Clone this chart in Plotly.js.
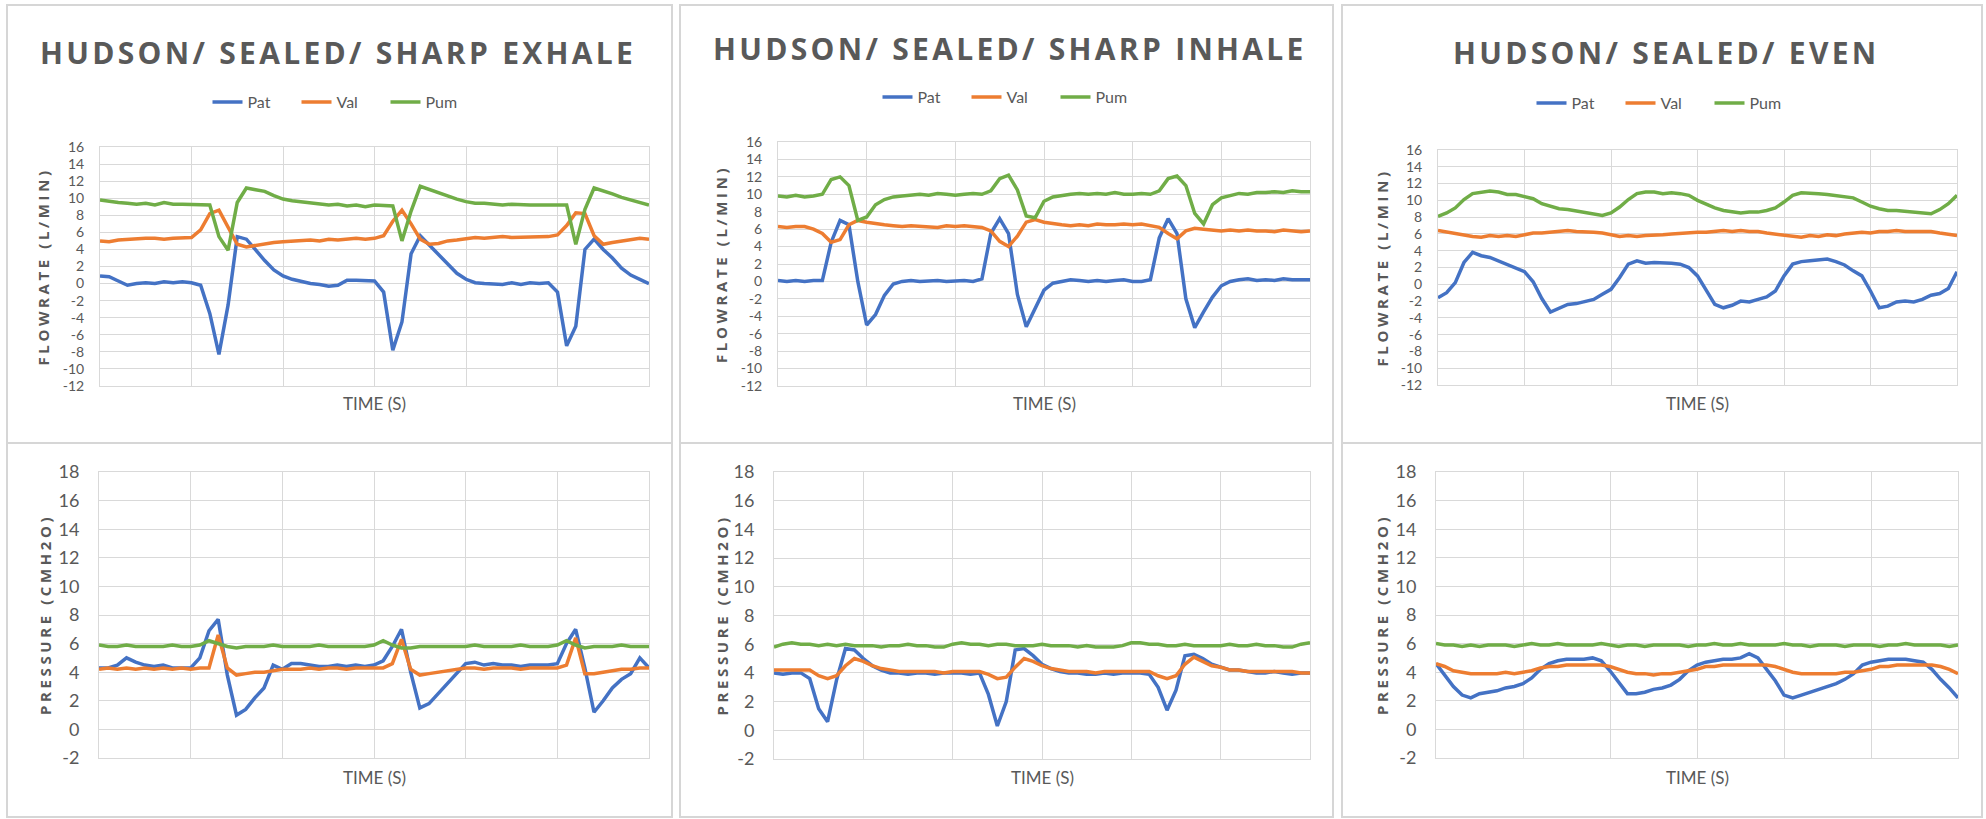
<!DOCTYPE html>
<html>
<head>
<meta charset="utf-8">
<script src="https://cdn.plot.ly/plotly-3.0.1.min.js"></script>
<style>
  html, body { margin: 0; padding: 0; background: #ffffff; }
  #chart { width: 1986px; height: 819px; }
  text.annotation-text[data-unformatted^="HUDSON"] { letter-spacing: 3.3px; }
  text.annotation-text[data-unformatted="FLOWRATE (L/MIN)"],
  text.annotation-text[data-unformatted="PRESSURE (CMH2O)"] { letter-spacing: 3.6px; }
</style>
</head>
<body>
<div id="chart"></div>
<script>
// ---------- DATA ----------
const time = [0,0.1,0.2,0.3,0.4,0.5,0.6,0.7,0.8,0.9,1.0,1.1,1.2,1.3,1.4,1.5,1.6,1.7,1.8,1.9,2.0,2.1,2.2,2.3,2.4,2.5,2.6,2.7,2.8,2.9,3.0,3.1,3.2,3.3,3.4,3.5,3.6,3.7,3.8,3.9,4.0,4.1,4.2,4.3,4.4,4.5,4.6,4.7,4.8,4.9,5.0,5.1,5.2,5.3,5.4,5.5,5.6,5.7,5.8,5.9,6.0];

const seriesNames = ["Pat", "Val", "Pum"];
const panelTitles = ["HUDSON/ SEALED/ SHARP EXHALE", "HUDSON/ SEALED/ SHARP INHALE", "HUDSON/ SEALED/ EVEN"];
const flowAxisTitle = "FLOWRATE (L/MIN)";
const pressureAxisTitle = "PRESSURE (CMH2O)";
const timeAxisTitle = "TIME (S)";

// Sharp exhale - flowrate
const exFlowPat = [0.9,0.8,0.3,-0.2,0.0,0.1,0.0,0.2,0.1,0.2, 0.1,-0.2,-3.5,-8.3,-2.5,5.5,5.2,3.9,2.7,1.6, 0.9,0.5,0.2,0.0,-0.1,-0.3,-0.2,0.4,0.4,0.3, 0.3,-1.0,-7.8,-4.5,3.5,5.6,4.5,3.3,2.2,1.2, 0.5,0.1,0.0,0.0,-0.1,0.1,-0.1,0.1,0.0,0.1, -1.0,-7.3,-5.0,4.0,5.2,4.0,3.0,1.8,1.0,0.5, 0.0];
const exFlowVal = [5.0,4.9,5.1,5.2,5.2,5.3,5.3,5.2,5.3,5.3, 5.4,6.3,8.2,8.6,6.5,4.6,4.3,4.5,4.6,4.8, 4.9,5.0,5.0,5.1,5.0,5.2,5.1,5.2,5.3,5.2, 5.3,5.6,7.3,8.6,7.0,5.2,4.6,4.7,5.0,5.1, 5.3,5.4,5.3,5.4,5.5,5.4,5.4,5.5,5.4,5.5, 5.7,6.8,8.3,8.2,5.6,4.6,4.8,5.0,5.1,5.3, 5.2];
const exFlowPum = [9.8,9.6,9.5,9.4,9.3,9.4,9.2,9.5,9.3,9.3, 9.3,9.2,9.2,5.5,3.9,9.5,11.2,11.0,10.8,10.3, 9.9,9.7,9.6,9.4,9.3,9.2,9.3,9.1,9.2,9.0, 9.2,9.2,9.1,5.0,8.5,11.4,11.0,10.7,10.3,9.9, 9.6,9.4,9.4,9.3,9.2,9.3,9.2,9.2,9.2,9.2, 9.2,9.2,4.6,8.7,11.2,10.9,10.5,10.1,9.8,9.5, 9.2];

// Sharp exhale - pressure
const exPresPat = [4.3,4.3,4.5,5.0,4.7,4.5,4.4,4.5,4.3,4.3, 4.3,5.0,6.9,7.7,3.8,1.0,1.4,2.2,2.9,4.5, 4.2,4.6,4.6,4.5,4.4,4.4,4.5,4.4,4.5,4.4, 4.5,4.8,5.8,7.0,4.0,1.5,1.8,2.5,3.2,3.9, 4.6,4.7,4.5,4.6,4.5,4.5,4.4,4.5,4.5,4.5, 4.6,6.0,7.0,4.3,1.2,2.0,2.9,3.5,3.9,5.0, 4.3];
const exPresVal = [4.2,4.3,4.2,4.3,4.2,4.3,4.2,4.3,4.2,4.3, 4.2,4.3,4.3,6.6,4.3,3.8,3.9,4.0,4.0,4.1, 4.2,4.2,4.2,4.3,4.2,4.3,4.3,4.2,4.3,4.3, 4.3,4.3,4.6,6.3,4.2,3.8,3.9,4.0,4.1,4.2, 4.3,4.3,4.2,4.3,4.3,4.3,4.2,4.3,4.3,4.3, 4.3,4.5,6.4,3.9,3.9,4.0,4.1,4.2,4.2,4.3, 4.3];
const exPresPum = [5.9,5.8,5.8,5.9,5.8,5.8,5.8,5.8,5.9,5.8, 5.8,5.9,6.2,6.0,5.8,5.7,5.8,5.8,5.8,5.9, 5.8,5.8,5.8,5.8,5.9,5.8,5.8,5.8,5.8,5.8, 5.9,6.2,5.9,5.7,5.7,5.8,5.8,5.8,5.8,5.8, 5.8,5.9,5.8,5.8,5.8,5.8,5.9,5.8,5.8,5.8, 5.9,6.2,5.9,5.7,5.8,5.8,5.8,5.9,5.8,5.8, 5.8];

// Sharp inhale - flowrate
const inFlowPat = [0.1,0.0,0.1,0.0,0.1,0.1,4.5,7.0,6.5,0.0, -5.0,-3.8,-1.6,-0.3,0.0,0.1,0.0,0.1,0.1,0.0, 0.1,0.1,0.0,0.3,5.5,7.2,5.5,-1.5,-5.2,-3.0, -1.0,-0.2,0.0,0.2,0.1,0.0,0.1,0.0,0.1,0.2, 0.0,0.0,0.2,5.0,7.2,5.5,-2.0,-5.3,-3.5,-1.8, -0.5,0.0,0.2,0.3,0.1,0.2,0.1,0.3,0.2,0.2, 0.2];
const inFlowVal = [6.3,6.2,6.3,6.3,6.0,5.5,4.5,4.8,6.5,7.0, 6.8,6.6,6.5,6.4,6.3,6.4,6.3,6.3,6.2,6.4, 6.3,6.4,6.3,6.2,5.8,4.6,4.0,5.2,6.8,7.1, 6.8,6.6,6.5,6.4,6.5,6.4,6.6,6.5,6.5,6.6, 6.5,6.6,6.4,6.2,5.5,4.9,5.8,6.1,6.0,5.9, 5.8,5.9,5.8,5.9,5.8,5.8,5.7,5.9,5.8,5.7, 5.8];
const inFlowPum = [9.8,9.7,9.9,9.7,9.8,10.0,11.7,12.0,11.0,7.0, 7.4,8.8,9.4,9.7,9.8,9.9,10.0,9.9,10.1,10.0, 9.9,10.0,10.1,10.0,10.4,11.8,12.2,10.5,7.5,7.3, 9.2,9.7,9.9,10.0,10.1,10.0,10.1,10.0,10.2,10.0, 10.0,10.1,10.0,10.4,11.8,12.1,11.0,7.8,6.6,8.8, 9.6,9.9,10.1,10.0,10.2,10.2,10.3,10.2,10.4,10.3, 10.3];

// Sharp inhale - pressure
const inPresPat = [4.0,3.9,4.0,4.0,3.6,1.5,0.6,3.5,5.7,5.6, 5.0,4.5,4.2,4.0,4.0,3.9,4.0,4.0,3.9,4.0, 4.0,4.0,3.9,4.0,2.5,0.3,2.0,5.6,5.7,5.2, 4.6,4.3,4.1,4.0,4.0,3.9,3.9,4.0,3.9,4.0, 4.0,4.0,3.9,3.0,1.4,2.8,5.2,5.3,5.0,4.6, 4.4,4.2,4.2,4.1,4.0,4.0,4.1,4.0,3.9,4.0, 4.0];
const inPresVal = [4.2,4.2,4.2,4.2,4.2,3.8,3.6,3.8,4.5,5.0, 4.8,4.5,4.3,4.2,4.1,4.1,4.1,4.1,4.1,4.0, 4.1,4.1,4.1,4.1,3.9,3.6,3.7,4.4,5.0,4.8, 4.5,4.3,4.2,4.1,4.1,4.1,4.0,4.1,4.1,4.1, 4.1,4.1,4.1,3.8,3.6,3.8,4.6,5.1,4.8,4.5, 4.4,4.2,4.2,4.1,4.1,4.1,4.1,4.1,4.1,4.0, 4.0];
const inPresPum = [5.8,6.0,6.1,6.0,6.0,5.9,6.0,5.9,6.0,5.9, 5.9,5.9,5.8,5.9,5.9,6.0,5.9,5.9,5.8,5.8, 6.0,6.1,6.0,6.0,5.9,6.0,6.0,5.9,5.9,5.9, 6.0,5.9,5.9,5.9,5.8,5.9,5.8,5.8,5.8,5.9, 6.1,6.1,6.0,6.0,5.9,5.9,6.0,5.9,5.9,5.9, 5.9,6.0,5.9,5.9,6.0,5.9,5.9,5.8,5.8,6.0, 6.1];

// Even - flowrate
const evFlowPat = [-1.6,-1.0,0.2,2.6,3.8,3.4,3.2,2.8,2.4,2.0, 1.5,0.3,-1.7,-3.3,-2.8,-2.4,-2.3,-2.1,-1.8,-1.2, -0.6,0.8,2.4,2.8,2.5,2.6,2.6,2.5,2.4,2.0, 1.0,-0.8,-2.4,-2.8,-2.5,-2.0,-2.1,-1.8,-1.5,-0.8, 1.0,2.4,2.7,2.8,2.9,3.0,2.7,2.3,1.6,1.0, -0.8,-2.8,-2.6,-2.1,-2.0,-2.1,-1.8,-1.3,-1.1,-0.5, 1.5];
const evFlowVal = [6.4,6.2,6.0,5.8,5.7,5.6,5.8,5.7,5.8,5.7, 5.9,6.1,6.1,6.2,6.3,6.4,6.3,6.3,6.2,6.1, 5.9,5.7,5.8,5.7,5.8,5.8,5.9,6.0,6.1,6.2, 6.2,6.2,6.3,6.4,6.3,6.4,6.3,6.3,6.1,6.0, 5.8,5.7,5.6,5.8,5.7,5.9,5.8,6.0,6.1,6.2, 6.1,6.3,6.3,6.4,6.3,6.3,6.2,6.3,6.1,6.0, 5.8];
const evFlowPum = [8.1,8.5,9.1,10.1,10.8,11.0,11.1,11.0,10.7,10.7, 10.5,10.2,9.6,9.3,9.0,8.9,8.7,8.6,8.3,8.2, 8.5,9.2,10.1,10.8,11.0,11.0,10.8,10.9,10.8,10.6, 10.0,9.5,9.1,8.8,8.6,8.5,8.6,8.6,8.8,9.1, 9.8,10.6,10.9,10.9,10.8,10.7,10.6,10.4,10.3,9.8, 9.3,9.0,8.8,8.8,8.7,8.6,8.5,8.4,8.9,9.6, 10.6];

// Even - pressure
const evPresPat = [4.6,3.8,3.0,2.4,2.2,2.5,2.6,2.7,2.9,3.0, 3.2,3.6,4.2,4.6,4.8,4.9,4.9,4.9,5.0,4.8, 4.1,3.3,2.5,2.5,2.6,2.8,2.9,3.1,3.5,4.1, 4.5,4.7,4.8,4.9,4.9,5.0,5.3,5.0,4.2,3.4, 2.4,2.2,2.4,2.6,2.8,3.0,3.2,3.5,3.9,4.5, 4.7,4.8,4.9,4.9,4.9,4.8,4.7,4.2,3.5,2.9, 2.2];
const evPresVal = [4.6,4.4,4.1,4.0,3.9,3.9,3.9,3.9,4.0,3.9, 4.0,4.1,4.3,4.4,4.4,4.5,4.5,4.5,4.5,4.5, 4.4,4.2,4.0,3.9,3.9,3.8,3.9,3.9,4.0,4.1, 4.2,4.4,4.4,4.5,4.5,4.5,4.5,4.5,4.5,4.4, 4.2,4.0,3.9,3.9,3.9,3.9,3.9,4.0,4.0,4.1, 4.2,4.4,4.4,4.5,4.5,4.5,4.5,4.5,4.4,4.2, 3.9];
const evPresPum = [6.0,5.9,5.9,5.8,5.9,5.8,5.9,5.9,5.9,5.8, 5.9,6.0,5.9,5.9,6.0,5.9,5.9,5.9,5.9,6.0, 5.9,5.8,5.9,5.9,5.8,5.9,5.9,5.9,5.9,5.8, 5.9,5.9,6.0,5.9,5.9,6.0,5.9,5.9,5.9,5.9, 6.0,5.9,5.9,5.8,5.9,5.9,5.9,5.8,5.9,5.9, 5.9,5.8,5.9,5.9,6.0,5.9,5.9,5.9,5.9,5.8, 5.9];

const flowTicks = [-12,-10,-8,-6,-4,-2,0,2,4,6,8,10,12,14,16];
const pressureTicks = [-2,0,2,4,6,8,10,12,14,16,18];

// ---------- LAYOUT HELPERS ----------
const W = 1986, H = 819;
const px = v => v / W;
const py = v => 1 - v / H;
const colors = ["#4472C4", "#ED7D31", "#70AD47"];
const BODYF = 'Lato, "Liberation Sans", sans-serif';
const BOLDF = '"Open Sans", "DejaVu Sans", sans-serif';
const TXT = "#595959";
const GRID = "#d9d9d9";

const panels = [
  {data:[exFlowPat, exFlowVal, exFlowPum], legend:"legend",  flow:true,  x:[100,649], y:[147,386], yt:43,  col:0},
  {data:[inFlowPat, inFlowVal, inFlowPum], legend:"legend2", flow:true,  x:[778,1310], y:[142,386], yt:721, col:1},
  {data:[evFlowPat, evFlowVal, evFlowPum], legend:"legend3", flow:true,  x:[1438,1957], y:[150,385], yt:1382, col:2},
  {data:[exPresPat, exPresVal, exPresPum], legend:null, flow:false, x:[99,649],  y:[472,758], yt:45,  col:0},
  {data:[inPresPat, inPresVal, inPresPum], legend:null, flow:false, x:[774,1310], y:[472,759], yt:721, col:1},
  {data:[evPresPat, evPresVal, evPresPum], legend:null, flow:false, x:[1436,1958], y:[472,758], yt:1382, col:2}
];

const traces = [];
const layout = {
  width: W, height: H,
  margin: {l:0, r:0, t:0, b:0, pad:0},
  paper_bgcolor: "#ffffff",
  plot_bgcolor: "#ffffff",
  showlegend: true,
  shapes: [],
  annotations: []
};

panels.forEach((p, i) => {
  const n = i + 1;
  const xid = n === 1 ? "x" : "x" + n;
  const yid = n === 1 ? "y" : "y" + n;
  const xkey = n === 1 ? "xaxis" : "xaxis" + n;
  const ykey = n === 1 ? "yaxis" : "yaxis" + n;
  p.data.forEach((vals, k) => {
    const t = {
      type: "scatter", mode: "lines", name: seriesNames[k],
      x: time, y: vals, xaxis: xid, yaxis: yid,
      line: {color: colors[k], width: 3.5},
      hoverinfo: "skip",
      showlegend: !!p.legend
    };
    if (p.legend) t.legend = p.legend;
    traces.push(t);
  });
  layout[xkey] = {
    domain: [px(p.x[0]), px(p.x[1])],
    anchor: yid, range: [0, 6], tick0: 0, dtick: 1,
    showticklabels: false, ticks: "",
    showgrid: true, gridcolor: GRID, gridwidth: 1,
    zeroline: false, showline: true, linecolor: GRID, linewidth: 1, mirror: true,
    fixedrange: true
  };
  const ticks = p.flow ? flowTicks : pressureTicks;
  layout[ykey] = {
    domain: [py(p.y[1]), py(p.y[0])],
    anchor: xid, range: [ticks[0], ticks[ticks.length - 1]],
    tickmode: "array", tickvals: ticks, ticktext: ticks.map(String),
    tickfont: {family: BODYF, size: p.flow ? 14 : 18, color: TXT},
    ticks: "", ticklabelstandoff: p.flow ? 12 : 15,
    showgrid: true, gridcolor: GRID, gridwidth: 1,
    zeroline: false, showline: true, linecolor: GRID, linewidth: 1, mirror: true,
    fixedrange: true
  };
  // axis titles
  const cy = (p.y[0] + p.y[1]) / 2;
  layout.annotations.push({
    xref: "paper", yref: "paper", x: px(p.yt), y: py(cy),
    xanchor: "center", yanchor: "middle", showarrow: false, textangle: -90,
    text: p.flow ? flowAxisTitle : pressureAxisTitle,
    font: {family: BOLDF, size: 15, color: TXT, weight: 700}
  });
  layout.annotations.push({
    xref: "paper", yref: "paper", x: px((p.x[0] + p.x[1]) / 2), y: py(p.flow ? 403 : 777),
    xanchor: "center", yanchor: "middle", showarrow: false,
    text: timeAxisTitle,
    font: {family: BODYF, size: 17, color: TXT}
  });
});

// chart titles
const titlePos = [[338, 53], [1010, 48], [1666, 52]];
panelTitles.forEach((t, i) => {
  layout.annotations.push({
    xref: "paper", yref: "paper", x: px(titlePos[i][0]), y: py(titlePos[i][1]),
    xanchor: "center", yanchor: "middle", showarrow: false,
    text: t, font: {family: BOLDF, size: 30, color: TXT, weight: 700}
  });
});

// legends
const legendPos = [[341, 102], [1011, 97], [1665, 103]];
["legend", "legend2", "legend3"].forEach((lk, i) => {
  layout[lk] = {
    orientation: "h", x: px(legendPos[i][0]), y: py(legendPos[i][1]),
    xanchor: "center", yanchor: "middle",
    font: {family: BODYF, size: 16, color: TXT},
    bgcolor: "rgba(0,0,0,0)", borderwidth: 0,
    entrywidth: 44, entrywidthmode: "pixels", tracegroupgap: 0
  };
});

// panel frames
const colX = [[7, 672], [680, 1333], [1342, 1982]];
const rowY = [[5, 443], [443, 817]];
colX.forEach(c => rowY.forEach(r => {
  layout.shapes.push({
    type: "rect", xref: "paper", yref: "paper", layer: "below",
    x0: px(c[0]), x1: px(c[1]), y0: py(r[1]), y1: py(r[0]),
    line: {color: "#d6d6d6", width: 2}, fillcolor: "rgba(0,0,0,0)"
  });
}));

Plotly.newPlot("chart", traces, layout, {staticPlot: true, displayModeBar: false});
</script>
</body>
</html>
